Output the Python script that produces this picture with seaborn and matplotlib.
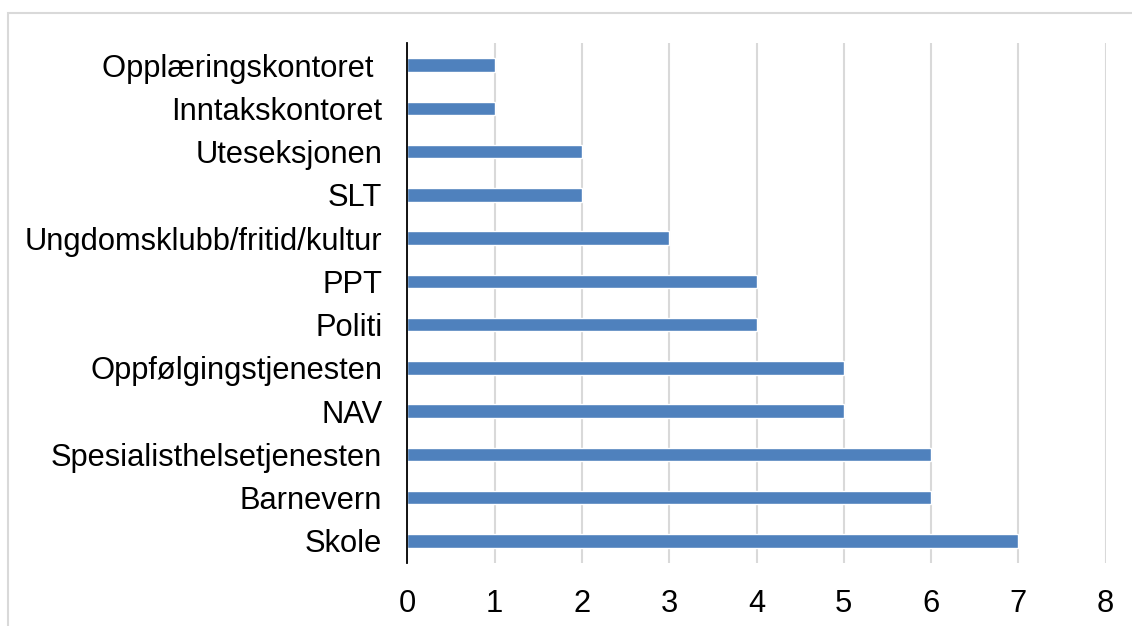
import pandas as pd
import seaborn as sns
from matplotlib import pyplot as plt
from matplotlib.patches import Rectangle

categories = ['Opplæringskontoret ', 'Inntakskontoret', 'Uteseksjonen', 'SLT',
              'Ungdomsklubb/fritid/kultur', 'PPT', 'Politi', 'Oppfølgingstjenesten',
              'NAV', 'Spesialisthelsetjenesten', 'Barnevern', 'Skole']
values = [1, 1, 2, 2, 3, 4, 4, 5, 5, 6, 6, 7]
x_ticks = [0, 1, 2, 3, 4, 5, 6, 7, 8]

sns.set_style('white')
plt.rcParams['font.family'] = ['Liberation Sans', 'DejaVu Sans']

data = pd.DataFrame({'Kategori': categories, 'Antall': values})

fig = plt.figure(figsize=(11.32, 6.26), dpi=100)
ax = fig.add_axes([0.3598, 0.1013, 0.6170, 0.8294])

sns.barplot(data=data, y='Kategori', x='Antall', orient='h', color='#4F81BD',
            saturation=1, width=0.31, ax=ax)

ax.set_xlim(0, 8)
ax.set_ylim(len(categories) - 0.5, -0.5)
ax.set_xticks(x_ticks)
ax.set_xticklabels([str(t) for t in x_ticks])
ax.xaxis.grid(True, color='#D9D9D9', linewidth=1.5)
ax.set_axisbelow(True)
for side in ['top', 'right', 'bottom']:
    ax.spines[side].set_visible(False)
ax.spines['left'].set_color('black')
ax.spines['left'].set_linewidth(1.3)
ax.set_xlabel('')
ax.set_ylabel('')
ax.tick_params(axis='y', length=0, pad=18, labelsize=22.2, colors='black')
ax.tick_params(axis='x', length=0, pad=19, labelsize=22.2, colors='black')

# chart area border, cut off at the right and bottom like the reference
fig.patches.append(Rectangle((8 / 1132, -0.1), 1.2, 1 - 13 / 626 + 0.1,
                             transform=fig.transFigure, fill=False,
                             edgecolor='#D9D9D9', linewidth=1.5))

fig.savefig('out.png', dpi=100)
